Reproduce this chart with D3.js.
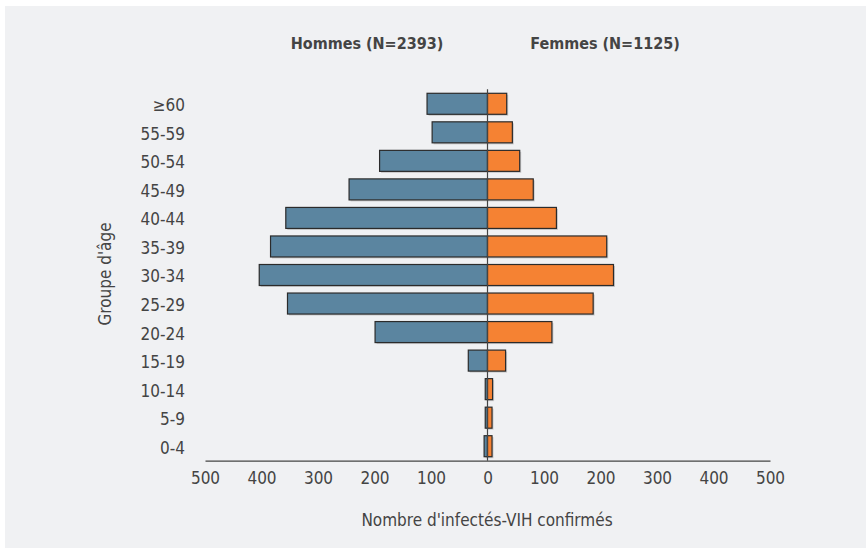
<!DOCTYPE html>
<html>
<head>
<meta charset="utf-8">
<script src="https://cdn.jsdelivr.net/npm/d3@7"></script>
<style>
  body { margin: 0; background: #ffffff; }
  text { font-family: "Liberation Sans Narrow", "DejaVu Sans Condensed", "Liberation Sans", sans-serif; fill: #444; }
</style>
</head>
<body>
<div id="chart"></div>
<script>

// age groups, top to bottom
var ages = ['≥60', '55-59', '50-54', '45-49', '40-44', '35-39', '30-34', '25-29', '20-24', '15-19', '10-14', '5-9', '0-4'];
var hommes = [107, 98, 191, 245, 357, 384, 404, 354, 199, 34, 4, 4, 6];
var femmes = [34, 44, 57, 81, 122, 211, 223, 187, 114, 32, 9, 8, 8];
var tickValues = [-500, -400, -300, -200, -100, 0, 100, 200, 300, 400, 500];

var chart_width  = 866;
var chart_height = 548;

var svg = d3.select('#chart')
  .append('svg')
  .attr('width', chart_width)
  .attr('height', chart_height);

// grey panel
svg.append('rect')
  .attr('x', 5).attr('y', 6)
  .attr('width', chart_width - 5)
  .attr('height', chart_height - 6)
  .attr('fill', '#f0f1f3');

var x_scale = d3.scaleLinear()
  .domain([-500, 500])
  .range([205, 770]);

var y_scale = d3.scaleBand()
  .domain(ages)
  .range([89.3, 460.7])
  .paddingInner(0.264)
  .paddingOuter(0.14);

var rows = ages.map(function(a, i) {
  return { age: a, h: hommes[i], f: femmes[i] };
});

// faint shadows
svg.selectAll('.shadow-h')
  .data(rows)
  .enter()
  .append('rect')
  .attr('x', function(d) { return x_scale(-d.h) + 1.5; })
  .attr('y', function(d) { return y_scale(d.age) + 1.5; })
  .attr('width', function(d) { return x_scale(0) - x_scale(-d.h); })
  .attr('height', y_scale.bandwidth())
  .attr('fill', '#999')
  .attr('fill-opacity', 0.45);

svg.selectAll('.shadow-f')
  .data(rows)
  .enter()
  .append('rect')
  .attr('x', x_scale(0) + 1.5)
  .attr('y', function(d) { return y_scale(d.age) + 1.5; })
  .attr('width', function(d) { return x_scale(d.f) - x_scale(0); })
  .attr('height', y_scale.bandwidth())
  .attr('fill', '#999')
  .attr('fill-opacity', 0.45);

svg.selectAll('.bar-h')
  .data(rows)
  .enter()
  .append('rect')
  .attr('x', function(d) { return x_scale(-d.h); })
  .attr('y', function(d) { return y_scale(d.age); })
  .attr('width', function(d) { return x_scale(0) - x_scale(-d.h); })
  .attr('height', y_scale.bandwidth())
  .attr('fill', '#5b85a0')
  .attr('stroke', '#2b2b2b')
  .attr('stroke-width', 1.2);

svg.selectAll('.bar-f')
  .data(rows)
  .enter()
  .append('rect')
  .attr('x', x_scale(0))
  .attr('y', function(d) { return y_scale(d.age); })
  .attr('width', function(d) { return x_scale(d.f) - x_scale(0); })
  .attr('height', y_scale.bandwidth())
  .attr('fill', '#f58233')
  .attr('stroke', '#2b2b2b')
  .attr('stroke-width', 1.2);

// zero line
svg.append('line')
  .attr('x1', x_scale(0)).attr('x2', x_scale(0))
  .attr('y1', 89.3).attr('y2', 460.7)
  .attr('stroke', '#444')
  .attr('stroke-width', 1.2);

// x axis
var x_axis = d3.axisBottom(x_scale)
  .tickValues(tickValues)
  .tickSize(0)
  .tickPadding(11)
  .tickFormat(function(d) { return Math.abs(d); });

var gx = svg.append('g')
  .attr('class', 'x-axis')
  .attr('transform', 'translate(0,460.7)')
  .call(x_axis);
gx.select('.domain').attr('stroke', '#444').attr('stroke-width', 1.2);
gx.selectAll('text').style('font-size', '17px').attr('fill', '#444');

// y axis labels
var y_axis = d3.axisLeft(y_scale).tickSize(0).tickPadding(0);
var gy = svg.append('g')
  .attr('class', 'y-axis')
  .attr('transform', 'translate(185,2)')
  .call(y_axis);
gy.select('.domain').remove();
gy.selectAll('text').style('font-size', '17px').attr('fill', '#444');

// titles
svg.append('text')
  .attr('x', 367).attr('y', 49)
  .attr('text-anchor', 'middle')
  .style('font-size', '16px')
  .style('font-weight', 'bold')
  .text('Hommes (N=2393)');

svg.append('text')
  .attr('x', 605).attr('y', 49)
  .attr('text-anchor', 'middle')
  .style('font-size', '16px')
  .style('font-weight', 'bold')
  .text('Femmes (N=1125)');

svg.append('text')
  .attr('x', 487).attr('y', 526)
  .attr('text-anchor', 'middle')
  .style('font-size', '17px')
  .text("Nombre d'infectés-VIH confirmés");

svg.append('text')
  .attr('transform', 'translate(111,274) rotate(-90)')
  .attr('text-anchor', 'middle')
  .style('font-size', '17px')
  .text("Groupe d'âge");

</script>
</body>
</html>
